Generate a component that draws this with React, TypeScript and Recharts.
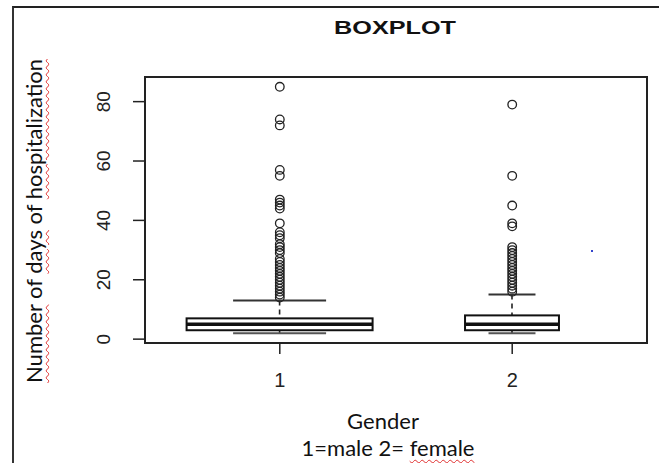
import { Bar, ComposedChart, ReferenceArea, Scatter, XAxis, YAxis } from "recharts";

// box statistics per gender (1 = male, 2 = female)
const groups = [1, 2];
const whiskerLow = [2, 2];
const lowerQuartile = [3, 3];
const medians = [5, 5];
const upperQuartile = [7, 8];
const whiskerHigh = [13, 15];

const maleOutliers = [85, 74, 72, 57, 55, 47, 46, 45, 44, 39, 36, 35, 34, 32, 31, 30, 29, 27, 26, 25, 24, 23, 22, 21, 20, 19, 18, 17, 16, 15, 14];
const femaleOutliers = [79, 55, 45, 39, 38, 31, 30, 29, 28, 27, 26, 25, 24, 23, 22, 21, 20, 19, 18, 17, 16];

const yTicks = [0, 20, 40, 60, 80];

// relative box widths (varwidth look)
const widthRatio = [1, 0.505];

const boxData = groups.map((g, i) => ({
  x: g,
  min: whiskerLow[i],
  q1: lowerQuartile[i],
  median: medians[i],
  q3: upperQuartile[i],
  max: whiskerHigh[i],
  idx: i,
}));

const outlierData = [
  ...maleOutliers.map((v) => ({ x: 1, y: v })),
  ...femaleOutliers.map((v) => ({ x: 2, y: v })),
];

const BoxShape = (props: any) => {
  const { x, y, width, height, payload } = props;
  const { min, q1, median, q3, max, idx } = payload;
  const toPx = (v: number) => y + (height * (max - v)) / (max - min);
  const cx = x + width / 2;
  const w = width * widthRatio[idx];
  const cap = w / 2;
  return (
    <g>
      <line x1={cx} x2={cx} y1={toPx(max)} y2={toPx(q3)} stroke="#222" strokeWidth={1.6} strokeDasharray="5 4" />
      <line x1={cx} x2={cx} y1={toPx(q1)} y2={toPx(min)} stroke="#222" strokeWidth={1.6} strokeDasharray="5 4" />
      <line x1={cx - cap / 2} x2={cx + cap / 2} y1={toPx(max)} y2={toPx(max)} stroke="#333" strokeWidth={2} />
      <line x1={cx - cap / 2} x2={cx + cap / 2} y1={toPx(min)} y2={toPx(min)} stroke="#555" strokeWidth={2} />
      <rect x={cx - w / 2} y={toPx(q3)} width={w} height={toPx(q1) - toPx(q3)} fill="#fff" stroke="#111" strokeWidth={2} />
      <line x1={cx - w / 2} x2={cx + w / 2} y1={toPx(median)} y2={toPx(median)} stroke="#111" strokeWidth={3.5} />
    </g>
  );
};

const OutlierShape = (props: any) => (
  <circle cx={props.cx} cy={props.cy} r={4.3} fill="none" stroke="#222" strokeWidth={1.3} />
);

const YTick = (props: any) => {
  const { x, y, payload } = props;
  const tx = x - 28;
  return (
    <text x={tx} y={y} transform={`rotate(-90, ${tx}, ${y})`} textAnchor="middle" dominantBaseline="central" fontSize={19} fill="#222" fontFamily="Liberation Sans, Arial, sans-serif">
      {payload.value}
    </text>
  );
};

const XTick = (props: any) => {
  const { x, y, payload } = props;
  return (
    <text x={x} y={y + 24} textAnchor="middle" dominantBaseline="central" fontSize={20} fill="#222" fontFamily="Liberation Sans, Arial, sans-serif">
      {payload.value}
    </text>
  );
};

const squiggle: React.CSSProperties = {
  textDecoration: "underline wavy #e03030",
  textDecorationThickness: "1px",
  textUnderlineOffset: "3px",
};

const labelFont: React.CSSProperties = {
  position: "absolute",
  fontFamily: "Lato, sans-serif",
  fontSize: 22,
  color: "#111",
  whiteSpace: "nowrap",
};

export default function App() {
  return (
    <div style={{ position: "absolute", left: 0, top: 0, width: 659, height: 463, background: "#fff", overflow: "hidden" }}>
      <div style={{ position: "absolute", left: 12, top: 6, width: 645, height: 470, borderTop: "2px solid #222", borderLeft: "2px solid #333", borderRight: "1px solid #999" }} />
      <ComposedChart width={659} height={463} data={boxData} margin={{ top: 77, right: 12, bottom: 70, left: 0 }} style={{ position: "absolute", left: 0, top: 0 }}>
        <XAxis dataKey="x" type="number" domain={[0.42, 2.58]} ticks={groups} allowDataOverflow axisLine={false} tickSize={11} tickLine={{ stroke: "#222", strokeWidth: 1.5 }} tick={<XTick />} height={50} />
        <YAxis type="number" domain={[-1.3, 88.3]} ticks={yTicks} allowDataOverflow axisLine={false} tickSize={12} tickLine={{ stroke: "#222", strokeWidth: 1.5 }} tick={<YTick />} width={145} />
        <Bar dataKey={(d: any) => [d.min, d.max]} barSize={186} shape={<BoxShape />} isAnimationActive={false} />
        <Scatter data={outlierData} dataKey="y" shape={<OutlierShape />} isAnimationActive={false} />
        <ReferenceArea x1={0.42} x2={2.58} y1={-1.3} y2={88.3} fill="none" fillOpacity={0} stroke="#222" strokeWidth={2} />
      </ComposedChart>
      <div style={{ position: "absolute", left: 395, top: 28, transform: "translate(-50%, -50%) scaleX(1.4)", fontFamily: "Liberation Sans, Arial, sans-serif", fontWeight: "bold", fontSize: 18, color: "#111", whiteSpace: "nowrap" }}>
        BOXPLOT
      </div>
      <div style={{ ...labelFont, left: 383, top: 420, transform: "translate(-50%, -50%)" }}>
        Gender
      </div>
      <div style={{ ...labelFont, left: 388, top: 447, transform: "translate(-50%, -50%)" }}>
        1=male 2= <span style={squiggle}>female</span>
      </div>
      <div style={{ ...labelFont, left: 33, top: 221, transform: "translate(-50%, -50%) rotate(-90deg)" }}>
        <span style={squiggle}>Number</span> of <span style={squiggle}>days</span> of <span style={squiggle}>hospitalization</span>
      </div>
      <div style={{ position: "absolute", left: 591, top: 250, width: 2, height: 2, background: "#3344cc" }} />
    </div>
  );
}
